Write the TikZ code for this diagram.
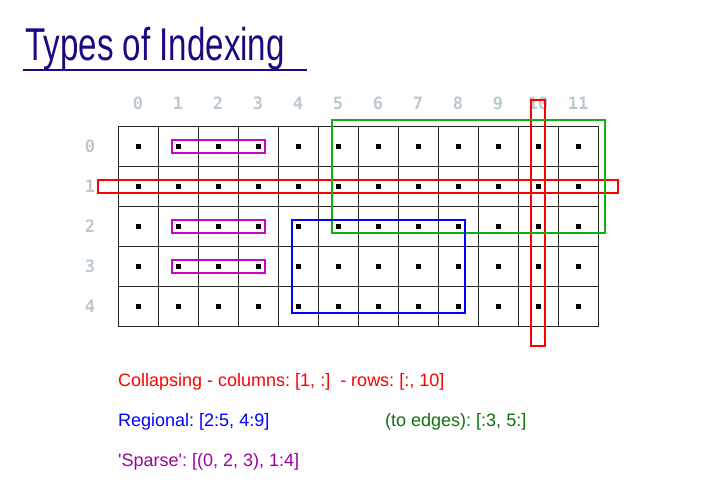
\documentclass[tikz,border=0pt]{standalone}
\usepackage{fontspec}
\setmainfont{Liberation Sans}
\newfontfamily\titlefont[FakeStretch=0.72]{Liberation Sans}
\newfontfamily\idxfont{DejaVu Sans Mono}
\usepackage{tikz}
\usetikzlibrary{calc, positioning}
\definecolor{navy}{HTML}{1A0A80}
\definecolor{idxgray}{HTML}{BCC8D0}
\definecolor{hlgreen}{HTML}{10B010}
\definecolor{txtgreen}{HTML}{107010}
\definecolor{hlmag}{HTML}{CC00CC}
\definecolor{txtpurple}{HTML}{A000A0}
\frenchspacing

\begin{document}
\begin{tikzpicture}[
  x=1pt, y=-1pt,
  cell/.style={draw=black!85, line width=0.8pt, minimum size=40pt, inner sep=0pt},
  dot/.style={fill=black, minimum size=5pt, inner sep=0pt},
  idx/.style={font=\idxfont\bfseries\fontsize{17}{17}\selectfont, text=idxgray},
  hl/.style={draw=#1, line width=2pt},
  txt/.style={font=\fontsize{18}{20}\selectfont, anchor=west, inner sep=0pt}
]
\useasboundingbox (0,0) rectangle (701,496);

% title
\node[anchor=base west, inner sep=0pt, text=navy,
      font=\titlefont\fontsize{46}{46}\selectfont] (title) at (25,60) {Types of Indexing};
\coordinate (ulA) at (23,70);
\coordinate (ulB) at (307,70);
\draw[navy, line width=1.8pt] (ulA) -- (ulB);

% grid of cells
\foreach \r in {0,...,4} {
  \foreach \c in {0,...,11} {
    \node[cell] (c\r-\c) at (138+40*\c, 146+40*\r) {};
    \node[dot] at (c\r-\c.center) {};
  }
}

% index labels
\foreach \c in {0,...,11} {
  \node[idx] (col\c) at (138+40*\c, 103) {\c};
}
\foreach \r in {0,...,4} {
  \node[idx] (row\r) at (90, 146+40*\r) {\r};
}

% collapsing
\draw[hl=red] ($(c1-0.center)+(-40,-6.5)$) rectangle ($(c1-11.center)+(40,6.5)$);
\draw[hl=red] ($(c0-10.center)+(-7,-46)$) rectangle ($(c4-10.center)+(7,40)$);
% to edges
\draw[hl=hlgreen] ($(c0-5.center)+(-6,-26)$) rectangle ($(c2-11.center)+(27,7)$);
% regional
\draw[hl=blue] ($(c2-4.center)+(-6,-6)$) rectangle ($(c4-8.center)+(7,7)$);
% sparse
\foreach \r in {0,2,3} {
  \draw[hl=hlmag] ($(c\r-1.center)+(-6,-6.5)$) rectangle ($(c\r-3.center)+(7,6.5)$);
}

% legend
\node[txt, text=red] (collapse) at (118,382) {Collapsing - columns: [1, :]\ \ - rows: [:, 10]};
\node[txt, text=blue] (regional) at (118,422) {Regional: [2:5, 4:9]};
\node[txt, text=txtgreen] (edges) at (385,422) {(to edges): [:3, 5:]};
\node[txt, text=txtpurple] (sparse) at (118,462) {\textquotesingle Sparse\textquotesingle: [(0, 2, 3), 1:4]};

\end{tikzpicture}
\end{document}
